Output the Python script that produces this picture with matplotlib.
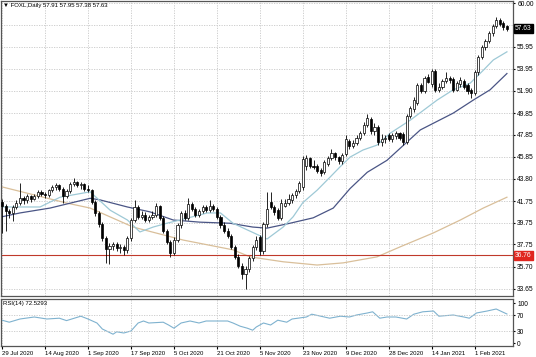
import numpy as np
import matplotlib
matplotlib.use("Agg")
import matplotlib.pyplot as plt

plt.rcParams['font.family'] = ['Liberation Sans', 'DejaVu Sans']

# FOXL daily candles
opens = [41.7, 41.3, 40.8, 40.6, 41.2, 41.6, 42.0, 41.8, 42.2, 41.9, 42.2, 42.6, 42.4, 42.3, 42.8, 43.0, 43.2, 42.9, 42.2, 42.7,
         43.3, 43.5, 43.2, 43.3, 42.9, 42.8, 41.7, 40.6, 39.6, 38.3, 37.3, 37.6, 37.8, 37.4, 37.5, 37.2, 38.3, 40.0, 41.2, 40.3,
         40.5, 40.0, 40.3, 40.5, 41.3, 40.2, 39.0, 38.0, 37.0, 38.2, 39.5, 40.6, 40.2, 41.5, 41.0, 40.5, 40.8, 41.2, 40.9, 41.3,
         41.0, 40.3, 39.5, 39.0, 38.5, 37.5, 36.6, 35.8, 35.0, 35.5, 36.5, 37.5, 38.4, 37.1, 39.6, 41.7, 41.2, 40.9, 40.2, 41.3,
         41.6, 41.8, 42.3, 42.7, 43.0, 45.0, 45.7, 45.0, 45.0, 44.6, 44.4, 45.2, 45.7, 46.2, 45.8, 45.4, 46.1, 47.3, 46.8, 47.1,
         47.6, 48.0, 48.8, 49.3, 48.2, 48.6, 47.2, 47.5, 47.8, 47.5, 47.7, 48.0, 47.9, 47.2, 49.6, 50.2, 50.8, 52.4, 51.9, 53.2,
         52.5, 53.7, 52.0, 52.3, 52.8, 53.1, 53.0, 52.0, 52.5, 52.8, 52.4, 52.0, 51.7, 53.6, 55.0, 55.9, 56.5, 57.2, 57.9, 58.4,
         58.2, 57.91]
highs = [41.9, 41.5, 41.0, 41.4, 41.8, 43.4, 42.2, 42.4, 42.3, 42.4, 42.8, 42.8, 42.6, 42.9, 43.2, 43.4, 43.3, 43.0, 42.9, 43.5,
         43.9, 43.6, 43.5, 43.4, 43.2, 42.9, 41.8, 40.8, 39.8, 38.5, 37.9, 38.0, 38.0, 37.8, 37.7, 38.5, 40.2, 41.8, 41.4, 40.8,
         40.7, 40.5, 40.8, 41.6, 41.4, 40.4, 39.2, 38.2, 38.4, 39.7, 40.8, 40.9, 42.0, 41.7, 41.2, 41.0, 41.4, 41.4, 41.8, 41.5,
         41.2, 40.5, 39.8, 39.3, 38.7, 37.7, 36.9, 36.0, 35.8, 36.7, 37.7, 38.5, 38.6, 39.8, 42.6, 42.6, 41.4, 41.1, 41.9, 41.9,
         42.4, 42.5, 42.9, 43.6, 45.9, 46.0, 45.8, 45.5, 45.2, 44.8, 45.5, 45.9, 46.5, 46.3, 45.9, 46.2, 47.8, 47.5, 47.4, 47.8,
         48.2, 49.0, 49.8, 49.5, 48.9, 48.8, 47.9, 47.8, 48.0, 48.0, 48.2, 48.1, 48.1, 49.8, 50.5, 51.3, 52.6, 52.6, 53.3, 53.5,
         53.9, 53.9, 52.6, 53.0, 53.6, 53.3, 53.2, 52.8, 53.2, 53.0, 52.6, 52.2, 53.8, 55.2, 56.1, 56.7, 57.4, 58.1, 58.7, 58.6,
         58.3, 57.95]
lows = [38.8, 39.0, 40.2, 39.9, 41.0, 41.4, 41.5, 41.6, 41.7, 41.8, 42.0, 42.2, 42.0, 42.1, 42.6, 42.8, 42.7, 41.6, 42.0, 42.5,
        43.1, 43.0, 42.9, 42.7, 42.6, 41.5, 40.4, 39.4, 38.1, 36.0, 35.9, 37.2, 37.1, 37.0, 36.8, 37.0, 38.1, 39.8, 40.1, 40.1,
        39.8, 39.8, 40.1, 40.3, 40.0, 38.8, 37.8, 36.6, 36.8, 38.0, 39.3, 40.0, 40.0, 40.8, 40.3, 40.3, 40.6, 40.7, 40.7, 40.8,
        40.1, 39.3, 38.8, 38.3, 37.3, 36.4, 35.6, 34.6, 33.6, 35.2, 36.2, 37.2, 36.8, 36.9, 39.4, 41.0, 40.5, 40.0, 40.0, 41.2,
        41.4, 41.6, 42.0, 42.5, 42.8, 44.6, 44.8, 44.7, 44.3, 44.1, 44.2, 45.0, 45.5, 45.5, 45.2, 45.2, 45.9, 46.5, 46.6, 46.9,
        47.4, 47.8, 48.6, 47.9, 47.8, 46.9, 46.8, 47.1, 47.3, 47.2, 47.5, 47.4, 46.9, 47.0, 49.4, 50.0, 50.6, 51.7, 51.7, 52.6,
        52.3, 51.8, 51.8, 52.1, 52.6, 52.6, 51.8, 51.9, 52.3, 52.1, 51.6, 51.2, 51.5, 53.4, 54.8, 55.7, 56.3, 57.0, 57.7, 57.9,
        57.5, 57.38]
closes = [41.3, 40.8, 40.6, 41.2, 41.6, 42.0, 41.8, 42.2, 41.9, 42.2, 42.6, 42.4, 42.3, 42.8, 43.0, 43.2, 42.9, 42.2, 42.7, 43.3,
          43.5, 43.2, 43.3, 42.9, 42.8, 41.7, 40.6, 39.6, 38.3, 37.3, 37.6, 37.8, 37.4, 37.5, 37.2, 38.3, 40.0, 41.2, 40.3, 40.5,
          40.0, 40.3, 40.5, 41.3, 40.2, 39.0, 38.0, 37.0, 38.2, 39.5, 40.6, 40.2, 41.5, 41.0, 40.5, 40.8, 41.2, 40.9, 41.3, 41.0,
          40.3, 39.5, 39.0, 38.5, 37.5, 36.6, 35.8, 35.0, 35.5, 36.5, 37.5, 38.2, 37.1, 39.6, 41.0, 41.2, 40.7, 40.2, 41.6, 41.6,
          41.9, 42.3, 42.7, 43.4, 45.6, 45.7, 45.0, 44.9, 44.5, 44.3, 45.3, 45.7, 46.2, 45.8, 45.4, 46.0, 47.5, 46.8, 47.1, 47.6,
          48.0, 48.8, 49.4, 48.2, 48.6, 47.2, 47.5, 47.6, 47.5, 47.8, 48.0, 47.6, 47.2, 49.6, 50.3, 51.1, 52.4, 51.9, 53.1, 52.7,
          53.7, 52.0, 52.3, 52.8, 53.1, 52.9, 52.0, 52.6, 52.9, 52.3, 51.9, 51.7, 53.6, 55.0, 55.9, 56.5, 57.2, 57.9, 58.4, 58.1,
          57.8, 57.63]

date_labels = ["29 Jul 2020", "14 Aug 2020", "1 Sep 2020", "17 Sep 2020", "5 Oct 2020", "21 Oct 2020",
               "5 Nov 2020", "23 Nov 2020", "9 Dec 2020", "28 Dec 2020", "14 Jan 2021", "1 Feb 2021"]
date_idx = [0, 12, 24, 36, 48, 60, 72, 84, 96, 108, 120, 132]

# moving averages, read at some bars
fast_idx = [0, 10.6, 16.2, 24.6, 30.2, 35, 38.5, 42.2, 46, 49.7, 57.3, 61, 64.5, 68.4, 74, 78.5, 81.3, 84, 88, 91.6,
            94.4, 97.2, 100.8, 104.7, 108.4, 114, 121.5, 126, 130.7, 134.4, 137.2, 141]
fast_ma = [41.2, 41.2, 42.1, 42.6, 40.9, 40.0, 38.9, 39.35, 39.7, 40.0, 40.65, 40.65, 39.7, 39.1, 38.25, 39.35, 40.3, 41.6,
           42.75, 43.95, 44.9, 45.8, 46.45, 46.9, 48.0, 49.2, 51.05, 52.0, 52.6, 53.8, 54.75, 55.5]
slow_idx = [0, 5, 13.4, 24.6, 27.4, 35, 41.3, 47.8, 55.3, 63.7, 70, 74, 80.4, 86.9, 92.5, 97.2, 102, 107.5, 116.8, 126,
            131.6, 136.3, 141]
slow_ma = [40.3, 40.65, 41.1, 42.0, 41.85, 41.2, 40.75, 40.0, 39.8, 39.7, 39.35, 39.25, 39.7, 40.2, 41.1, 42.9, 44.4,
           45.5, 48.3, 49.85, 51.05, 52.0, 53.5]
long_idx = [0, 18.2, 24.6, 36.6, 50.6, 64.5, 69.3, 78.5, 88, 95.3, 104.7, 111, 120.4, 128, 134.4, 141]
long_ma = [43.05, 41.55, 41.1, 39.35, 38.15, 37.25, 36.6, 36.15, 35.85, 36.05, 36.6, 37.5, 38.8, 40.0, 41.1, 42.1]

rsi_idx = [0, 2, 5, 9, 12.5, 16, 18, 22, 24, 26.5, 28, 31, 32, 34, 36, 38, 39.5, 41, 45, 46.5, 48, 50, 52.5, 55, 57,
           63, 64.5, 66.5, 68.5, 70, 71, 73, 75, 77, 79.5, 81, 85, 86.5, 89, 91.5, 94.5, 97, 99, 102, 103.5, 105.5,
           107.5, 110, 113, 115, 117.5, 120.5, 122, 126, 129, 130.5, 132.5, 135.5, 138, 141]
rsi_val = [57, 52, 60, 65, 60, 62, 56, 67, 60, 50, 35, 22, 28, 25, 30, 50, 55, 50, 52, 45, 37, 50, 55, 50, 55,
           55, 50, 42, 37, 32, 40, 50, 45, 57, 52, 60, 65, 72, 67, 62, 67, 65, 70, 75, 78, 62,
           65, 65, 60, 72, 78, 80, 67, 70, 65, 62, 75, 80, 85, 72.53]

price_ticks = [60.00, 57.95, 55.95, 53.95, 51.90, 49.85, 47.85, 45.85, 43.80, 41.75, 39.75, 37.75, 35.70, 33.65]
last_price = 57.63
level_price = 36.76

W, H = 536, 357
fig = plt.figure(figsize=(W / 100, H / 100), dpi=100)
fig.patch.set_facecolor("white")
ax = fig.add_axes([1 / W, (H - 296) / H, 512 / W, 295 / H])
ax2 = fig.add_axes([1 / W, (H - 346) / H, 512 / W, 47 / H])

fs = 4.8
fs_small = 4.3
grid_kw = dict(color="#c8c8c8", linestyle=(0, (1.5, 1.5)), linewidth=0.6)
xl = (-0.3, 142.7)

o = np.array(opens); h = np.array(highs); l = np.array(lows); c = np.array(closes)
x = np.arange(len(c))
up = c >= o

ax.plot(long_idx, long_ma, color="#d9bf9a", lw=0.9, zorder=2)
ax.plot(slow_idx, slow_ma, color="#4a5585", lw=0.9, zorder=2)
ax.plot(fast_idx, fast_ma, color="#9ec9d6", lw=0.9, zorder=2)
ax.axhline(level_price, color="#c0392b", lw=0.8, zorder=2)

ax.vlines(x, l, h, color="black", lw=0.6, zorder=3)
ax.bar(x[up], (c - o)[up], bottom=o[up], width=0.6, color="white", edgecolor="black", linewidth=0.5, zorder=4)
ax.bar(x[~up], (o - c)[~up], bottom=c[~up], width=0.6, color="black", edgecolor="black", linewidth=0.5, zorder=4)

ax.set_xlim(*xl)
ax.set_ylim(60 - 293 / 10.85, 60 + 2 / 10.85)
ax.set_xticks(date_idx)
ax.set_xticklabels([])
ax.set_yticks(price_ticks)
# 57.95 sits under the last-price box in the reference
ax.set_yticklabels(["" if p == 57.95 else "%.2f" % p for p in price_ticks], fontsize=fs)
ax.yaxis.tick_right()
ax.tick_params(axis="y", length=1.5, pad=1.5, colors="black", labelsize=fs)
ax.tick_params(axis="x", length=0)
ax.grid(True, **grid_kw)
ax.set_axisbelow(True)

ax.text(0.004, 0.985, "\u25bc FOXL,Daily 57.91 57.95 57.38 57.63", transform=ax.transAxes,
        fontsize=fs_small, va="center", ha="left", zorder=6)

ax.annotate("%.2f" % last_price, xy=(1.0, last_price), xycoords=("axes fraction", "data"), xytext=(1.5, 0),
            textcoords="offset points", fontsize=fs, color="white", va="center", ha="left",
            bbox=dict(boxstyle="square,pad=0.15", fc="black", ec="black"), annotation_clip=False)
ax.annotate("%.2f" % level_price, xy=(1.0, level_price), xycoords=("axes fraction", "data"), xytext=(1.5, 0),
            textcoords="offset points", fontsize=fs, color="white", va="center", ha="left",
            bbox=dict(boxstyle="square,pad=0.15", fc="#e0261f", ec="#e0261f"), annotation_clip=False)

# RSI panel
ax2.plot(rsi_idx, rsi_val, color="#7fb2cf", lw=0.8)
ax2.set_xlim(*xl)
ax2.set_ylim(-7.5, 110)
ax2.set_yticks([0, 30, 70, 100])
ax2.set_yticklabels(["0", "30", "70", "100"], fontsize=fs)
ax2.yaxis.tick_right()
ax2.tick_params(axis="y", length=1.5, pad=1.5, labelsize=fs)
ax2.set_xticks(date_idx)
ax2.set_xticklabels(date_labels, fontsize=fs_small, ha="left")
ax2.tick_params(axis="x", length=2, pad=1.5, labelsize=fs_small)
ax2.grid(True, axis="x", **grid_kw)
for lv in [30, 70]:
    ax2.axhline(lv, **grid_kw)
ax2.text(0.004, 100, "RSI(14) 72.5293", transform=ax2.get_yaxis_transform(),
         fontsize=fs_small, va="center", ha="left")

for a in (ax, ax2):
    for s in a.spines.values():
        s.set_color("#555555")
        s.set_linewidth(0.9)

plt.savefig("out.png", dpi=100)
plt.close()
